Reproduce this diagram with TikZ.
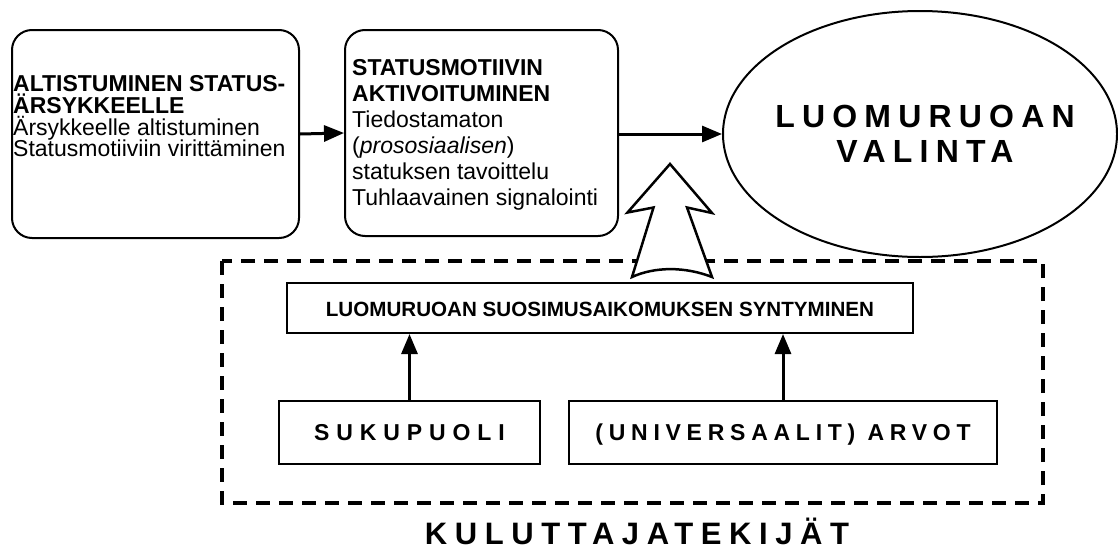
\documentclass[tikz,border=0pt]{standalone}
\usepackage{fontspec}
\setmainfont{Liberation Sans}
\usetikzlibrary{shapes.geometric,arrows.meta}
\begin{document}
\begin{tikzpicture}[x=1pt,y=-1pt,
  rbox/.style={draw, line width=2pt, rounded corners=20pt, inner sep=0pt},
  sbox/.style={draw, line width=2pt, inner sep=0pt, text height=16.5pt, text depth=0pt},
  spaced/.style={font={\fontsize{23}{26}\selectfont\bfseries\addfontfeature{LetterSpace=#1}}},
  conn/.style={line width=3pt, -{Triangle[length=20pt,width=16pt]}},
  bigarrow/.style={line width=2.5pt, fill=white, line join=miter},
  dashbox/.style={line width=3.5pt, dash pattern=on 14pt off 9pt},
  ln/.style={inner sep=0pt, anchor=base west, font={\fontsize{23}{26}\selectfont}},
  bln/.style={ln, font={\fontsize{23}{26}\selectfont\bfseries}},
  eln/.style={inner sep=0pt, anchor=base, font={\fontsize{32}{35.4}\selectfont\bfseries\addfontfeature{LetterSpace=22.5}}}
]
\useasboundingbox (0,0) rectangle (1118,557);
\fill[white] (0,0) rectangle (1118,557);

% top row
\node[rbox, minimum width=287pt, minimum height=208pt] (b1) at (155.5,134) {};
\node[bln] (t1a) at (13,91.7) {ALTISTUMINEN STATUS-};
\node[bln] (t1b) at (13,113.3) {ÄRSYKKEELLE};
\node[ln]  (t1c) at (13,135) {Ärsykkeelle altistuminen};
\node[ln]  (t1d) at (13,156.7) {Statusmotiiviin virittäminen};

\node[rbox, minimum width=273pt, minimum height=206pt] (b2) at (481.5,133) {};
\node[bln] (t2a) at (352,75) {STATUSMOTIIVIN};
\node[bln] (t2b) at (352,101.1) {AKTIVOITUMINEN};
\node[ln]  (t2c) at (352,127.2) {Tiedostamaton};
\node[ln]  (t2d) at (352,153.3) {(\textit{prososiaalisen})};
\node[ln]  (t2e) at (352,179.4) {statuksen tavoittelu};
\node[ln]  (t2f) at (352,205.5) {Tuhlaavainen signalointi};

\node[draw, ellipse, line width=2pt, minimum width=394pt, minimum height=246pt, inner sep=0pt] (e) at (920,134) {};
\node[eln] (ea) at (925,127.3) {LUOMURUOAN};
\node[eln] (eb) at (925,162.7) {VALINTA};

\draw[conn] (b1.east) -- (b2.west);
\draw[conn] (b2.east |- e.west) -- (e.west);

% consumer factors
\draw[dashbox] (222,261) rectangle (1043,503);

\draw[bigarrow] (670,164) -- (712,213) -- (687,207.5) -- (712,277)
  .. controls (685,266.5) and (655,266.5) .. (632,277)
  -- (653.5,207.5) -- (627.5,212.5) -- cycle;

\node[sbox, minimum width=626pt, minimum height=50pt, font={\fontsize{20.6}{24}\selectfont\bfseries}] (tb) at (600,308)
  {LUOMURUOAN SUOSIMUSAIKOMUKSEN SYNTYMINEN};
\node[sbox, minimum width=261pt, minimum height=63pt, spaced=30] (sk) at (409.5,432.5) {SUKUPUOLI};
\node[sbox, minimum width=428pt, minimum height=63pt, spaced=25] (av) at (783,432.5) {(UNIVERSAALIT) ARVOT};

\draw[conn] (sk.north) -- (sk.north |- tb.south);
\draw[conn] (av.north) -- (av.north |- tb.south);

\node[inner sep=0pt, text height=22.2pt, text depth=0pt,
  font={\fontsize{31}{36}\selectfont\bfseries\addfontfeature{LetterSpace=24.4}}] (kt) at (637,533.5) {KULUTTAJATEKIJÄT};
\end{tikzpicture}
\end{document}
